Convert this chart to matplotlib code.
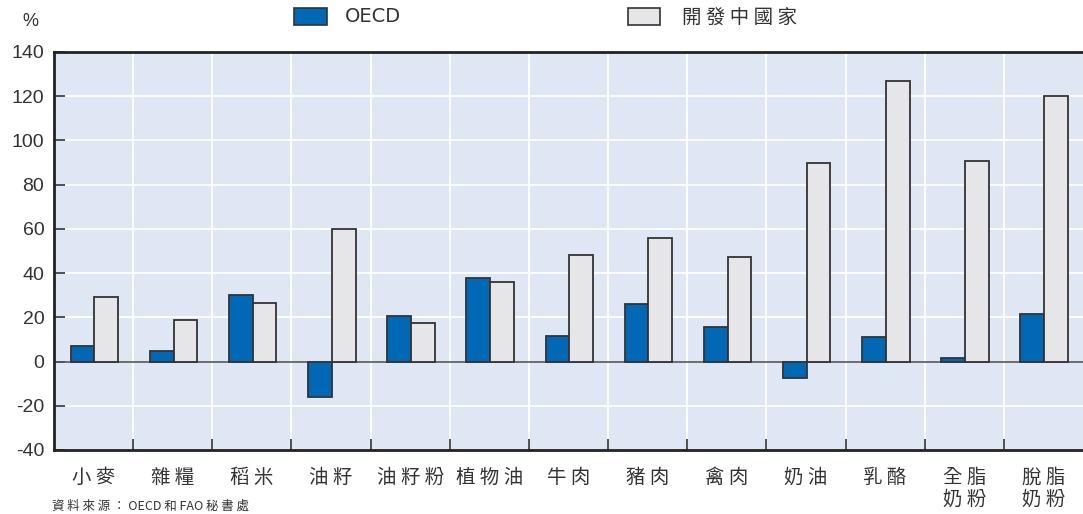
import matplotlib
matplotlib.use("Agg")
import matplotlib.pyplot as plt
import numpy as np
from matplotlib.patches import Rectangle

plt.rcParams['font.family'] = ['Noto Sans CJK TC', 'DejaVu Sans']

categories = ["小麥", "雜糧", "稻米", "油籽", "油籽粉", "植物油", "牛肉", "豬肉",
              "禽肉", "奶油", "乳酪", "全脂\n奶粉", "脫脂\n奶粉"]
oecd = [7, 5, 30, -16, 20.5, 38, 11.5, 26, 15.5, -7.5, 11, 1.5, 21.5]
developing = [29, 19, 26.5, 60, 17.5, 36, 48, 56, 47.5, 90, 127, 90.5, 120]
series_names = ["OECD", "開發中國家"]
yticks = [-40, -20, 0, 20, 40, 60, 80, 100, 120, 140]

blue = "#0068b4"
grey = "#e6e6e8"
edge = "#333333"
bg = "#e0e7f4"

fig = plt.figure(figsize=(10.83, 5.14), dpi=100)
ax = fig.add_axes([54 / 1083, 1 - 450 / 514, 1 - 54 / 1083, (450 - 52) / 514])
ax.set_facecolor(bg)

x = np.arange(len(categories))
w = 0.30
ax.bar(x - w / 2 + 0.01, oecd, w, color=blue, edgecolor=edge, linewidth=1.3, zorder=3)
ax.bar(x + w / 2 + 0.01, developing, w, color=grey, edgecolor=edge, linewidth=1.3, zorder=3)

ax.set_xlim(-0.5, len(categories) - 0.5)
ax.set_ylim(-40, 140)
ax.set_yticks(yticks)
ax.set_yticklabels([str(v) for v in yticks], family='Liberation Sans', fontsize=14, color='#333333')

for v in yticks[1:-1]:
    ax.axhline(v, color='white', linewidth=1.3, zorder=1)
bounds = np.arange(0.5, len(categories) - 0.5, 1.0)
for b in bounds:
    ax.axvline(b, color='white', linewidth=1.3, zorder=1)
ax.axhline(0, color='#555555', linewidth=1.2, zorder=2)

ax.set_xticks(bounds)
ax.set_xticklabels([])
ax.tick_params(axis='x', direction='in', length=8, width=1.2, color='#333333')
ax.tick_params(axis='y', direction='in', length=8, width=1.2, color='#333333', pad=7)


def spaced(label):
    return "\n".join(" ".join(list(part)) for part in label.split("\n"))


ax.set_xticks(x, minor=True)
ax.set_xticklabels([spaced(c) for c in categories], minor=True, fontsize=14,
                   color='#333333', linespacing=1.05)
ax.tick_params(axis='x', which='minor', length=0, pad=12)

for side in ['left', 'bottom', 'top']:
    ax.spines[side].set_color('#222222')
    ax.spines[side].set_linewidth(2.0)
ax.spines['right'].set_visible(False)

fig.text(30 / 1083, 1 - 22 / 514, "%", family='Liberation Sans', fontsize=13,
         color='#333333', ha='center', va='center')

fig.patches.append(Rectangle((294 / 1083, 1 - 25 / 514), 33 / 1083, 17 / 514,
                             transform=fig.transFigure, facecolor=blue, edgecolor=edge, linewidth=1.2))
fig.text(345 / 1083, 1 - 17 / 514, series_names[0], family='Liberation Sans Narrow', fontsize=14,
         color='#333333', va='center', ha='left')
fig.patches.append(Rectangle((628 / 1083, 1 - 25 / 514), 32 / 1083, 17 / 514,
                             transform=fig.transFigure, facecolor=grey, edgecolor=edge, linewidth=1.2))
fig.text(682 / 1083, 1 - 17 / 514, " ".join(list(series_names[1])), fontsize=14,
         color='#333333', va='center', ha='left')

fig.text(52 / 1083, 1 - 500 / 514, "資 料 來 源 ： OECD 和 FAO 秘 書 處", fontsize=9,
         color='#333333', va='top', ha='left')

fig.savefig("out.png", dpi=100)
